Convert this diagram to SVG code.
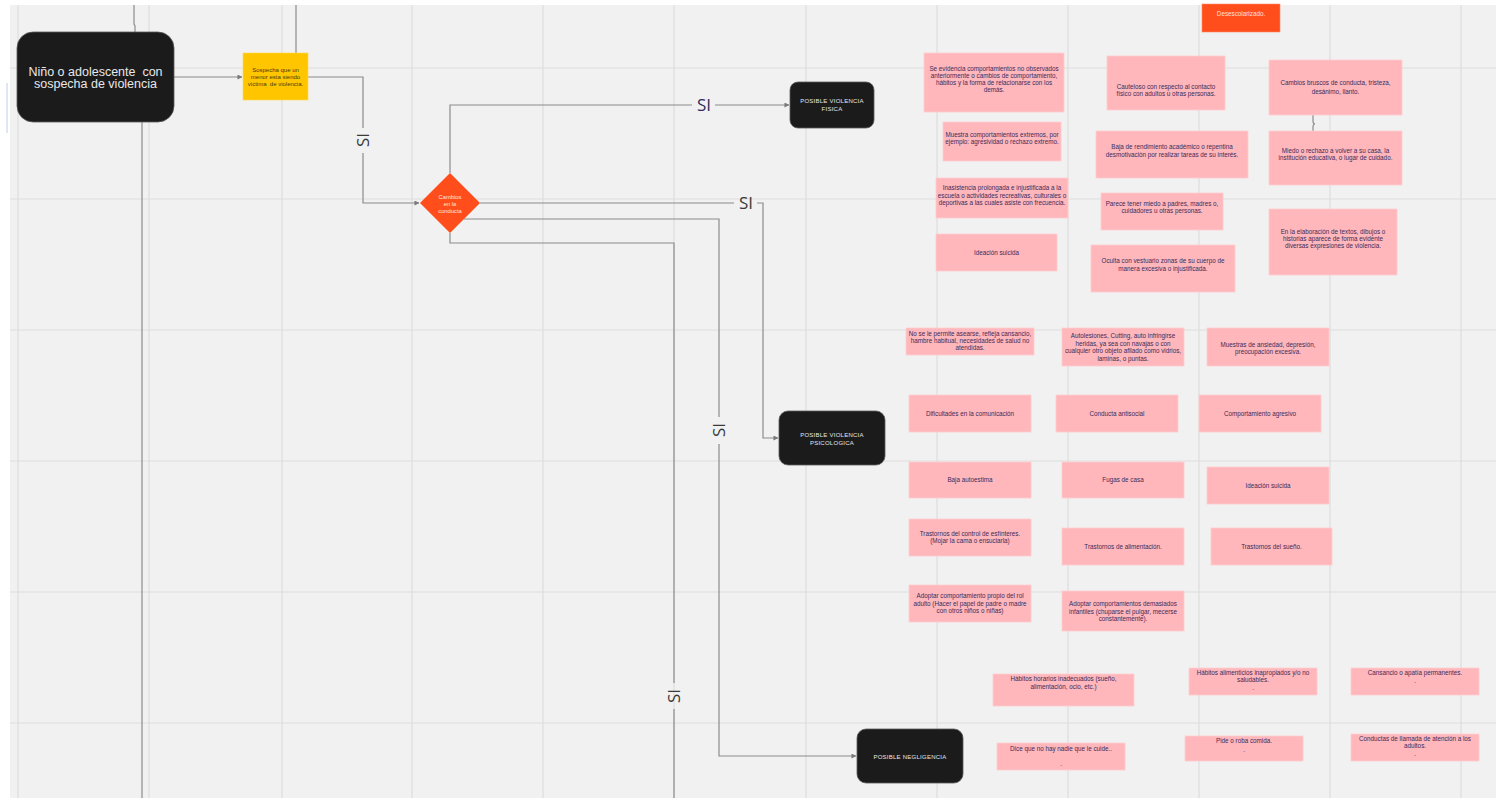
<svg xmlns="http://www.w3.org/2000/svg" width="1496" height="798" viewBox="0 0 1496 798">
<defs>
<style>
.bg{fill:#f1f1f1}
.grid line{stroke:#dedede;stroke-width:1.2}
.term rect{fill:#1b1b1b;stroke:#5a5a5a;stroke-width:0.8}
.term text{fill:#e8e8e8;font-family:"Liberation Sans",Arial,sans-serif;font-size:6px;text-anchor:middle;letter-spacing:0.25px}
.note rect{fill:#ffb7bc;stroke:#ffcdd0;stroke-width:0.8}
.note text{fill:#3b2b58;font-family:"Liberation Sans",Arial,sans-serif;font-size:6.3px;text-anchor:middle}
.conn path{fill:none;stroke:#8c8c8c;stroke-width:1.2}
.lbl{font-family:"Open Sans","DejaVu Sans",sans-serif;font-size:17px;text-anchor:middle;fill:#3a3a3a}
</style>
<marker id="arr" viewBox="0 0 6 6" refX="5.5" refY="3" markerWidth="5" markerHeight="5" markerUnits="userSpaceOnUse" orient="auto">
<path d="M0,0 L6,3 L0,6 Z" fill="#7a7a7a"/>
</marker>
</defs>
<rect x="0" y="0" width="1496" height="798" fill="#ffffff"/>
<rect class="bg" x="10" y="5" width="1486" height="793"/>
<g class="grid">
<line x1="18" y1="5" x2="18" y2="798"/><line x1="149" y1="5" x2="149" y2="798"/><line x1="282" y1="5" x2="282" y2="798"/><line x1="412" y1="5" x2="412" y2="798"/><line x1="543" y1="5" x2="543" y2="798"/><line x1="674" y1="5" x2="674" y2="798"/><line x1="806" y1="5" x2="806" y2="798"/><line x1="937" y1="5" x2="937" y2="798"/><line x1="1068" y1="5" x2="1068" y2="798"/><line x1="1199" y1="5" x2="1199" y2="798"/><line x1="1330" y1="5" x2="1330" y2="798"/><line x1="1461" y1="5" x2="1461" y2="798"/>
<line x1="10" y1="68" x2="1496" y2="68"/><line x1="10" y1="199" x2="1496" y2="199"/><line x1="10" y1="330" x2="1496" y2="330"/><line x1="10" y1="461" x2="1496" y2="461"/><line x1="10" y1="592" x2="1496" y2="592"/><line x1="10" y1="723" x2="1496" y2="723"/>
</g>
<line x1="7" y1="83" x2="7" y2="133" stroke="#d6dcf5" stroke-width="1.5"/>
<g class="conn" id="connectors">
<path d="M134,5 V24 L135,26 V32"/>
<path d="M296,5 V53"/>
<path d="M142,122 V798"/>
<path d="M174,77 H242" marker-end="url(#arr)"/>
<path d="M308,77 H363 V128 M363,153 V203 H419" marker-end="url(#arr)"/>
<path d="M450,173 V105 H692 M715,105 H789" marker-end="url(#arr)"/>
<path d="M480,203 H734 M757,203 H763 V438 H778" marker-end="url(#arr)"/>
<path d="M464,219 H719 V417 M719,444 V756 H856" marker-end="url(#arr)"/>
<path d="M450,233 V243 H674 V683 M674,709 V798"/>
<path d="M1310,112 Q1313,112 1313,116 V121 Q1313,124 1315,124 Q1313,124 1313,127 V133 Q1313,137 1310,137" stroke-width="1"/>
<text class="lbl" transform="translate(369,140) rotate(-90)">SI</text>
<text class="lbl" x="704" y="111" style="fill:#2f2b5c">SI</text>
<text class="lbl" x="746" y="209">SI</text>
<text class="lbl" transform="translate(725,430) rotate(-90)">SI</text>
<text class="lbl" transform="translate(680,696) rotate(-90)">SI</text>
</g>
<g id="start" class="term">
<rect x="17" y="32" width="157" height="90" rx="16"/>
<text x="95.5" y="75.5" xml:space="preserve" style="font-size:12.5px;letter-spacing:0">Niño o adolescente  con</text>
<text x="95.5" y="88" style="font-size:12.5px;letter-spacing:0">sospecha de violencia</text>
</g>
<g id="sospecha">
<rect x="243" y="53" width="65" height="47" fill="#ffc600" stroke="#ffd84d" stroke-width="0.6"/>
<text x="275.5" y="72" font-family="Liberation Sans, Arial, sans-serif" font-size="6px" fill="#4a3a12" text-anchor="middle">Sospecha que un</text>
<text x="275.5" y="79" font-family="Liberation Sans, Arial, sans-serif" font-size="6px" fill="#4a3a12" text-anchor="middle">menor esta siendo</text>
<text x="275.5" y="86" xml:space="preserve" font-family="Liberation Sans, Arial, sans-serif" font-size="6px" fill="#4a3a12" text-anchor="middle">victima  de violencia.</text>
</g>
<g id="cambios">
<polygon points="450,173 480,203 450,233 420,203" fill="#ff4e1c"/>
<text x="450" y="199" font-family="Liberation Sans, Arial, sans-serif" font-size="5.8px" fill="#ffe6dc" text-anchor="middle">Cambios</text>
<text x="450" y="206" font-family="Liberation Sans, Arial, sans-serif" font-size="5.8px" fill="#ffe6dc" text-anchor="middle">en la</text>
<text x="450" y="213" font-family="Liberation Sans, Arial, sans-serif" font-size="5.8px" fill="#ffe6dc" text-anchor="middle">conducta</text>
</g>
<g id="fisica" class="term">
<rect x="790" y="82" width="84" height="46" rx="8"/>
<text x="832" y="103">POSIBLE VIOLENCIA</text>
<text x="832" y="111">FISICA</text>
</g>
<g id="psicologica" class="term">
<rect x="779" y="411" width="106" height="54" rx="9"/>
<text x="832" y="437">POSIBLE VIOLENCIA</text>
<text x="832" y="445">PSICOLOGICA</text>
</g>
<g id="negligencia" class="term">
<rect x="857" y="729" width="106" height="54" rx="9"/>
<text x="910" y="759">POSIBLE NEGLIGENCIA</text>
</g>
<g id="desescolarizado">
<rect x="1202" y="4" width="78" height="28" fill="#ff4e1c" stroke="#ff8a66" stroke-width="0.6"/>
<text x="1241" y="16" font-family="Liberation Sans, Arial, sans-serif" font-size="6.3px" fill="#ffe0d6" text-anchor="middle">Desescolarizado.</text>
</g>
<g id="n1" class="note"><rect x="924" y="53" width="140" height="59"/><text x="994" y="71">Se evidencia comportamientos no observados</text><text x="994" y="78">anteriormente o cambios de comportamiento,</text><text x="994" y="85">hábitos y la forma de relacionarse con los</text><text x="994" y="92">demás.</text></g>
<g id="n2" class="note"><rect x="943" y="122" width="118" height="39"/><text x="1002" y="137">Muestra comportamientos extremos, por</text><text x="1002" y="144">ejemplo: agresividad o rechazo extremo.</text></g>
<g id="n3" class="note"><rect x="1107" y="56" width="118" height="54"/><text x="1166" y="89">Cauteloso con respecto al contacto</text><text x="1166" y="96">físico con adultos u otras personas.</text></g>
<g id="n4" class="note"><rect x="1096" y="131" width="152" height="47"/><text x="1172" y="149">Baja de rendimiento académico o repentina</text><text x="1172" y="157">desmotivación por realizar tareas de su interés.</text></g>
<g id="n5" class="note"><rect x="1269" y="60" width="133" height="55"/><text x="1335.5" y="85">Cambios bruscos de conducta, tristeza,</text><text x="1335.5" y="94">desánimo, llanto.</text></g>
<g id="n6" class="note"><rect x="1269" y="131" width="133" height="54"/><text x="1335.5" y="153">Miedo o rechazo a volver a su casa, la</text><text x="1335.5" y="160">institución educativa, o lugar de cuidado.</text></g>
<g id="n7" class="note"><rect x="936" y="178" width="132" height="40"/><text x="1002" y="190">Inasistencia prolongada e injustificada a la</text><text x="1002" y="197.5">escuela o actividades recreativas, culturales o</text><text x="1002" y="205">deportivas a las cuales asiste con frecuencia.</text></g>
<g id="n8" class="note"><rect x="936" y="234" width="121" height="37"/><text x="996.5" y="255">Ideación suicida</text></g>
<g id="n9" class="note"><rect x="1101" y="193" width="122" height="37"/><text x="1162" y="206">Parece tener miedo a padres, madres o,</text><text x="1162" y="213">cuidadores u otras personas.</text></g>
<g id="n10" class="note"><rect x="1091" y="245" width="144" height="47"/><text x="1163" y="263">Oculta con vestuario zonas de su cuerpo de</text><text x="1163" y="271">manera excesiva o injustificada.</text></g>
<g id="n11" class="note"><rect x="1269" y="209" width="128" height="66"/><text x="1333" y="234">En la elaboración de textos, dibujos o</text><text x="1333" y="241">historias aparece de forma evidente</text><text x="1333" y="248">diversas expresiones de violencia.</text></g>
<g id="n12" class="note"><rect x="906" y="328" width="128" height="27"/><text x="970" y="336">No se le permite asearse, refleja cansancio,</text><text x="970" y="343">hambre habitual, necesidades de salud no</text><text x="970" y="350">atendidas.</text></g>
<g id="n13" class="note"><rect x="1062" y="328" width="122" height="38"/><text x="1123" y="338">Autolesiones, Cutting, auto infringirse</text><text x="1123" y="346">heridas, ya sea con navajas o con</text><text x="1123" y="353">cualquier otro objeto afilado como vidrios,</text><text x="1123" y="361">laminas, o puntas.</text></g>
<g id="n14" class="note"><rect x="1207" y="328" width="122" height="38"/><text x="1268" y="347">Muestras de ansiedad, depresión,</text><text x="1268" y="354">preocupación excesiva.</text></g>
<g id="n15" class="note"><rect x="909" y="395" width="122" height="37"/><text x="970" y="416">Dificultades en la comunicación</text></g>
<g id="n16" class="note"><rect x="1056" y="395" width="122" height="37"/><text x="1117" y="416">Conducta antisocial</text></g>
<g id="n17" class="note"><rect x="1199" y="395" width="122" height="37"/><text x="1260" y="416">Comportamiento agresivo</text></g>
<g id="n18" class="note"><rect x="909" y="462" width="122" height="36"/><text x="970" y="482">Baja autoestima</text></g>
<g id="n19" class="note"><rect x="1062" y="462" width="122" height="36"/><text x="1123" y="482">Fugas de casa</text></g>
<g id="n20" class="note"><rect x="1207" y="467" width="122" height="37"/><text x="1268" y="488">Ideación suicida</text></g>
<g id="n21" class="note"><rect x="909" y="519" width="122" height="37"/><text x="970" y="536">Trastornos del control de esfínteres.</text><text x="970" y="543">(Mojar la cama o ensuciarla)</text></g>
<g id="n22" class="note"><rect x="1062" y="528" width="122" height="37"/><text x="1123" y="549">Trastornos de alimentación.</text></g>
<g id="n23" class="note"><rect x="1211" y="528" width="121" height="37"/><text x="1271.5" y="549">Trastornos del sueño.</text></g>
<g id="n24" class="note"><rect x="909" y="585" width="122" height="37"/><text x="970" y="598">Adoptar comportamiento propio del rol</text><text x="970" y="606">adulto (Hacer el papel de padre o madre</text><text x="970" y="613">con otros niños o niñas)</text></g>
<g id="n25" class="note"><rect x="1062" y="591" width="122" height="40"/><text x="1123" y="606">Adoptar comportamientos demasiados</text><text x="1123" y="614">infantiles (chuparse el pulgar, mecerse</text><text x="1123" y="621">constantemente).</text></g>
<g id="n26" class="note"><rect x="993" y="674" width="141" height="32"/><text x="1063.5" y="681">Hábitos horarios inadecuados (sueño,</text><text x="1063.5" y="689">alimentación, ocio, etc.)</text></g>
<g id="n27" class="note"><rect x="1189" y="668" width="128" height="27"/><text x="1253" y="675">Hábitos alimenticios inapropiados y/o no</text><text x="1253" y="682">saludables.</text><text x="1253" y="690">.</text></g>
<g id="n28" class="note"><rect x="1351" y="668" width="128" height="27"/><text x="1415" y="675">Cansancio o apatía permanentes.</text><text x="1415" y="683">.</text></g>
<g id="n29" class="note"><rect x="997" y="743" width="128" height="27"/><text x="1061" y="751">Dice que no hay nadie que le cuide..</text><text x="1061" y="766">.</text></g>
<g id="n30" class="note"><rect x="1185" y="736" width="118" height="25"/><text x="1244" y="743">Pide o roba comida.</text><text x="1244" y="752">.</text></g>
<g id="n31" class="note"><rect x="1351" y="734" width="128" height="27"/><text x="1415" y="741">Conductas de llamada de atención a los</text><text x="1415" y="748">adultos.</text><text x="1415" y="756">.</text></g>
</svg>
